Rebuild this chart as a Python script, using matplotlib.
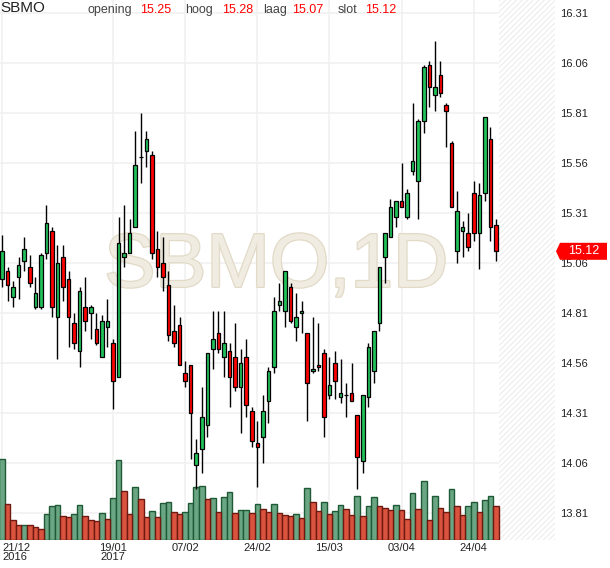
import matplotlib
matplotlib.use("Agg")
import matplotlib.pyplot as plt
import matplotlib.transforms as mtransforms
import matplotlib.patheffects as pe
from matplotlib.patches import Polygon
import numpy as np
import pandas as pd

plt.rcParams['font.family'] = ['Liberation Sans', 'DejaVu Sans']
plt.rcParams['hatch.linewidth'] = 0.8

# Daily candles SBMO
opens = [14.98, 15.02, 14.89, 14.99, 15.07, 15.04, 14.84, 14.84, 15.11, 15.22,
         14.79, 15.09, 14.98, 14.76, 14.62, 14.84, 14.81, 14.73, 14.59, 14.74,
         14.66, 14.49, 15.09, 15.11, 15.24, 15.59, 15.62, 15.60, 15.13, 15.06,
         14.95, 14.72, 14.75, 14.51, 14.55, 14.05, 14.13, 14.25, 14.63, 14.71,
         14.59, 14.62, 14.59, 14.44, 14.59, 14.32, 14.16, 14.19, 14.37, 14.54,
         14.85, 14.82, 14.94, 14.74, 14.81, 14.71, 14.52, 14.55, 14.61, 14.40,
         14.56, 14.39, 14.40, 14.41, 14.30, 14.07, 14.39, 14.52, 14.76, 15.09,
         15.19, 15.29, 15.37, 15.29, 15.52, 15.47, 15.77, 16.05, 15.90, 16.00,
         15.85, 15.66, 15.12, 15.22, 15.21, 15.41, 15.21, 15.41, 15.68, 15.25]
highs = [15.20, 15.04, 14.97, 15.09, 15.19, 15.10, 14.99, 15.11, 15.35, 15.24,
         15.15, 15.15, 15.02, 14.81, 14.94, 14.99, 14.85, 14.81, 14.80, 14.88,
         14.68, 15.29, 15.35, 15.28, 15.72, 15.81, 15.72, 15.62, 15.22, 15.19,
         15.02, 14.85, 14.79, 14.57, 14.55, 14.18, 14.44, 14.61, 14.82, 14.82,
         14.82, 14.66, 14.76, 14.63, 14.68, 14.34, 14.27, 14.40, 14.54, 14.89,
         14.96, 15.02, 14.96, 14.91, 14.87, 14.71, 14.79, 14.76, 14.63, 14.59,
         14.62, 14.58, 14.46, 14.56, 14.30, 14.40, 14.66, 14.72, 15.04, 15.21,
         15.38, 15.37, 15.56, 15.43, 15.86, 15.78, 16.05, 16.07, 16.17, 16.07,
         15.86, 15.67, 15.42, 15.27, 15.31, 15.47, 15.46, 15.79, 15.74, 15.28]
lows = [14.94, 14.87, 14.84, 14.88, 15.02, 14.94, 14.83, 14.83, 15.08, 14.79,
        14.58, 14.87, 14.64, 14.63, 14.54, 14.72, 14.68, 14.65, 14.59, 14.64,
        14.33, 14.49, 15.04, 15.11, 15.24, 15.46, 15.54, 15.08, 14.99, 14.92,
        14.67, 14.64, 14.55, 14.44, 14.08, 13.93, 14.01, 14.19, 14.53, 14.61,
        14.49, 14.34, 14.42, 14.21, 14.29, 14.14, 13.94, 14.06, 14.26, 14.51,
        14.82, 14.74, 14.76, 14.67, 14.71, 14.27, 14.51, 14.52, 14.19, 14.38,
        14.38, 14.36, 14.29, 14.37, 13.93, 14.01, 14.34, 14.46, 14.72, 14.96,
        15.19, 15.24, 15.34, 15.28, 15.50, 15.28, 15.71, 15.84, 15.82, 15.89,
        15.64, 15.34, 15.06, 15.09, 15.12, 15.17, 15.03, 15.37, 15.17, 15.07]
closes = [15.12, 14.95, 14.94, 15.05, 15.13, 14.96, 14.91, 15.10, 15.26, 14.84,
          15.06, 14.94, 14.79, 14.66, 14.92, 14.77, 14.84, 14.66, 14.77, 14.77,
          14.47, 15.16, 15.11, 15.21, 15.55, 15.59, 15.68, 15.11, 15.04, 14.99,
          14.70, 14.66, 14.55, 14.47, 14.31, 14.11, 14.29, 14.61, 14.68, 14.63,
          14.66, 14.49, 14.44, 14.56, 14.35, 14.17, 14.14, 14.32, 14.52, 14.82,
          14.87, 15.02, 14.77, 14.79, 14.82, 14.46, 14.53, 14.54, 14.29, 14.45,
          14.47, 14.41, 14.40, 14.37, 14.09, 14.40, 14.64, 14.72, 15.04, 15.21,
          15.34, 15.37, 15.34, 15.41, 15.57, 15.77, 16.04, 15.94, 15.94, 15.91,
          15.82, 15.34, 15.32, 15.24, 15.14, 15.21, 15.40, 15.79, 15.24, 15.12]

# volume (x1000 shares) and the colour the bar has in the chart (1 = green)
volume = [203, 89, 51, 38, 38, 38, 32, 28, 66, 86, 88, 61, 58, 66, 88, 61, 51, 48,
          68, 53, 106, 201, 123, 66, 133, 103, 58, 73, 58, 93, 96, 71, 66, 71, 93,
          133, 136, 103, 106, 71, 108, 121, 68, 76, 76, 68, 91, 78, 71, 91, 68, 63,
          61, 66, 56, 131, 96, 73, 96, 66, 73, 88, 78, 63, 111, 61, 86, 108, 86, 81,
          76, 88, 76, 53, 118, 78, 148, 51, 111, 81, 71, 128, 86, 63, 86, 96, 71,
          101, 111, 86]
vol_up = [1, 0, 0, 0, 1, 0, 0, 0, 1, 1, 1, 0, 0, 1, 1, 0, 0, 0, 1, 0,
          1, 1, 0, 0, 1, 0, 0, 1, 0, 1, 1, 0, 0, 1, 1, 1, 1, 0, 1, 0,
          1, 1, 0, 1, 1, 0, 1, 0, 0, 1, 0, 0, 0, 1, 0, 1, 0, 0, 1, 0,
          1, 1, 0, 0, 1, 0, 1, 1, 0, 0, 0, 1, 0, 0, 1, 0, 1, 0, 1, 0,
          0, 1, 0, 0, 1, 1, 0, 1, 1, 0]

holidays = ['2016-12-26', '2017-04-14', '2017-04-17']
dates = pd.bdate_range('2016-12-21', '2017-04-28', freq='C', holidays=holidays)
tick_dates = ['2016-12-21', '2017-01-19', '2017-02-07', '2017-02-24',
              '2017-03-15', '2017-04-03', '2017-04-24']
price_ticks = [13.81, 14.06, 14.31, 14.56, 14.81, 15.06, 15.31, 15.56, 15.81, 16.06, 16.31]

header = [("opening", "15.25"), ("hoog", "15.28"), ("laag", "15.07"), ("slot", "15.12")]

o = np.array(opens); h = np.array(highs); l = np.array(lows); c = np.array(closes)
idx = np.arange(len(o))
up = c >= o

W, H = 610, 568
fig = plt.figure(figsize=(W / 100, H / 100), dpi=100)
ax = fig.add_axes([0, 28 / H, 555 / W, 1 - 28 / H])

# grid
ax.set_axisbelow(True)
tick_idx = [dates.get_loc(pd.Timestamp(d)) for d in tick_dates]
ax.set_xticks(tick_idx)
ax.set_yticks(price_ticks)
ax.grid(True, color='#f1f1f1', linewidth=1.2)

# hatched "future" area
ax.axvspan(len(o) - 0.45, 105, facecolor='white', edgecolor='#ededed',
           hatch='//////', linewidth=0, zorder=0.6)

# watermark
ax.text(49.4, 15.04, "SBMO,1D", fontsize=55, color='#f0ece2', ha='center', va='center',
        zorder=0.8, path_effects=[pe.Stroke(linewidth=1.8, foreground='#e2dac7'), pe.Normal()])

# volume bars along the bottom, own scale
vol_top = 1350
vtrans = mtransforms.blended_transform_factory(
    ax.transData, mtransforms.Affine2D().scale(1, 1 / vol_top) + ax.transAxes)
vup = np.array(vol_up) == 1
ax.bar(idx[vup], np.array(volume)[vup], width=1.0, color='#6aa683', edgecolor='#1e5a36',
       linewidth=1, transform=vtrans, zorder=1)
ax.bar(idx[~vup], np.array(volume)[~vup], width=1.0, color='#d9533f', edgecolor='#6e1a10',
       linewidth=1, transform=vtrans, zorder=1)

# candles
ax.vlines(idx, l, h, color='black', linewidth=1, zorder=2)
body = np.maximum(np.abs(c - o), 0.002)
ax.bar(idx[up], body[up], bottom=np.minimum(o, c)[up], width=0.64, color='#22c25a',
       edgecolor='black', linewidth=0.9, zorder=3)
ax.bar(idx[~up], body[~up], bottom=np.minimum(o, c)[~up], width=0.64, color='#ff0000',
       edgecolor='black', linewidth=0.9, zorder=3)

ax.set_xlim(-0.36, 99.64)
ax.set_ylim(13.6765, 16.3765)
for s in ax.spines.values():
    s.set_visible(False)

# axis labels
labels = []
prev_year = None
for d in tick_dates:
    t = pd.Timestamp(d)
    lab = t.strftime('%d/%m')
    if t.year != prev_year:
        lab += "\n" + str(t.year)
    prev_year = t.year
    labels.append(lab)
ax.set_xticklabels(labels, fontsize=8, color='#222222', linespacing=0.95)
ax.get_xticklabels()[0].set_ha('left')
ax.tick_params(axis='x', length=0, pad=2)
ax.yaxis.tick_right()
ax.set_yticklabels([f"{p:.2f}" for p in price_ticks], fontsize=8, color='#222222')
ax.tick_params(axis='y', length=0, pad=4)

# last price tag (drawn in pixels at the last close)
fig.canvas.draw()
ty = ax.transData.transform((0, c[-1]))[1]
tag = Polygon([(556, ty), (560, ty + 8.5), (607, ty + 8.5), (607, ty - 8.5), (560, ty - 8.5)],
              closed=True, facecolor='#ff0000', edgecolor='none',
              transform=mtransforms.IdentityTransform(), zorder=5)
fig.add_artist(tag)
fig.text(584 / W, ty / H, f"{c[-1]:.2f}", fontsize=9, color='white',
         ha='center', va='center', zorder=6)

# header
fig.text(0, 1 - 8 / H, "SBMO", fontsize=11, color='#222222', ha='left', va='center')
xs = [(88, 140), (185, 222), (263, 292), (338, 365)]
for (name, val), (xn, xv) in zip(header, xs):
    fig.text(xn / W, 1 - 10 / H, name, fontsize=9, color='#444444', ha='left', va='center')
    fig.text(xv / W, 1 - 10 / H, val, fontsize=9, color='#ff0000', ha='left', va='center')

fig.savefig("out.png", dpi=100)
